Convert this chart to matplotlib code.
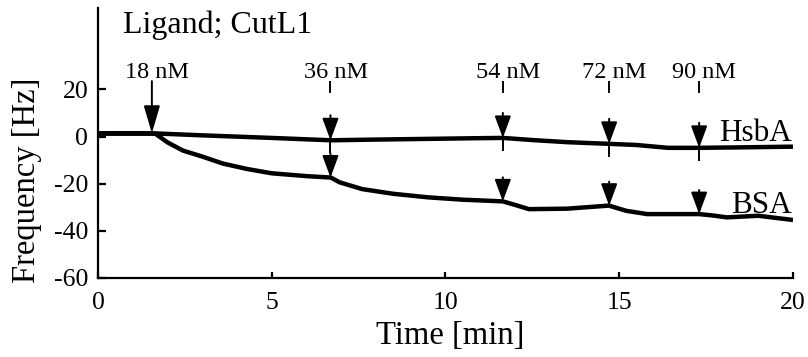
import numpy as np
import matplotlib
matplotlib.use("Agg")
import matplotlib.pyplot as plt

plt.rcParams['font.family'] = ['Liberation Serif', 'DejaVu Serif']
plt.rcParams['axes.unicode_minus'] = False

# values
hsba_t = [0, 1.5, 3.0, 5.0, 6.7, 8.0, 9.5, 11.0, 11.65, 12.5, 13.5, 14.7, 15.5, 16.4, 17.3, 18.5, 20.0]
hsba_f = [1.4, 1.4, 0.5, -0.6, -1.6, -1.3, -1.0, -0.7, -0.6, -1.5, -2.4, -3.1, -3.6, -4.8, -4.8, -4.6, -4.3]

bsa_t = [0, 1.65, 2.0, 2.45, 3.0, 3.6, 4.3, 5.0, 6.0, 6.7, 6.95, 7.6, 8.5, 9.5, 10.5, 11.65, 12.0, 12.4, 13.5, 14.7, 15.2, 15.8, 16.5, 17.3, 17.7, 18.1, 19.0, 20.0]
bsa_f = [1.2, 1.2, -2.5, -6.0, -8.5, -11.5, -13.8, -15.6, -16.8, -17.4, -19.4, -22.3, -24.3, -25.8, -26.8, -27.5, -29.0, -30.8, -30.6, -29.3, -31.5, -32.9, -32.9, -32.9, -33.5, -34.3, -33.6, -35.4]

inj_t = [1.55, 6.69, 11.65, 14.71, 17.3]
inj_labels = ['18 nM', '36 nM', '54 nM', '72 nM', '90 nM']

fig = plt.figure(figsize=(8.08, 3.57), dpi=100)
ax = fig.add_axes([0.1213, 0.2213, 0.8601, 0.7563])

ax.plot(hsba_t, hsba_f, color='black', lw=3.2, solid_capstyle='butt')
ax.plot(bsa_t, bsa_f, color='black', lw=3.2, solid_capstyle='butt')

ax.set_xlim(0, 20)
ax.set_ylim(-60, 54.5)
ax.set_xticks([0, 5, 10, 15, 20])
ax.set_yticks([-60, -40, -20, 0, 20])
ax.spines['top'].set_visible(False)
ax.spines['right'].set_visible(False)
for s in ['left', 'bottom']:
    ax.spines[s].set_linewidth(1.6)
ax.tick_params(axis='y', direction='in', length=6, width=1.6, pad=7, labelsize=18.5)
ax.tick_params(axis='x', direction='in', length=4.5, width=1.6, pad=10, labelsize=18.5)

ax.set_xlabel('Time [min]', fontsize=23.5, va='center')
ax.set_ylabel('Frequency [Hz]', fontsize=23.5, va='center')
ax.xaxis.set_label_coords(0.507, -0.215)
ax.yaxis.set_label_coords(-0.102, 0.36)

ax.text(0.72, 44, 'Ligand; CutL1', fontsize=23, va='baseline', ha='left')
ax.text(19.97, -1.7, 'HsbA', fontsize=22.5, va='baseline', ha='right')
ax.text(19.97, -32.3, 'BSA', fontsize=22.5, va='baseline', ha='right')

px = 0.4255  # Hz per pixel in y


def head(x, y_tip, y_from, hl, hw):
    ax.annotate('', xy=(x, y_tip), xytext=(x, y_from),
                arrowprops=dict(arrowstyle='-|>,head_length=%g,head_width=%g' % (hl, hw),
                                color='black', lw=1.4, shrinkA=0, shrinkB=0,
                                mutation_scale=10))


for i, (t, lab) in enumerate(zip(inj_t, inj_labels)):
    ax.text(t + 0.15, 24.8, lab, fontsize=17.5, ha='center', va='baseline')
    yh = np.interp(t, hsba_t, hsba_f)
    yb = np.interp(t, bsa_t, bsa_f)
    if i == 0:
        head(t, yh, 23.5, 1.7, 0.5)
    else:
        # short dash under the label
        ax.plot([t, t], [23.0, 23.0 - 10 * px], color='black', lw=1.4)
        head(t, yh, yh + 25 * px, 1.35, 0.5)
        ax.plot([t, t], [yh, yh - 12 * px], color='black', lw=1.4)
        head(t, yb, yb + 24 * px, 1.35, 0.5)

fig.savefig('out.png', dpi=100)
